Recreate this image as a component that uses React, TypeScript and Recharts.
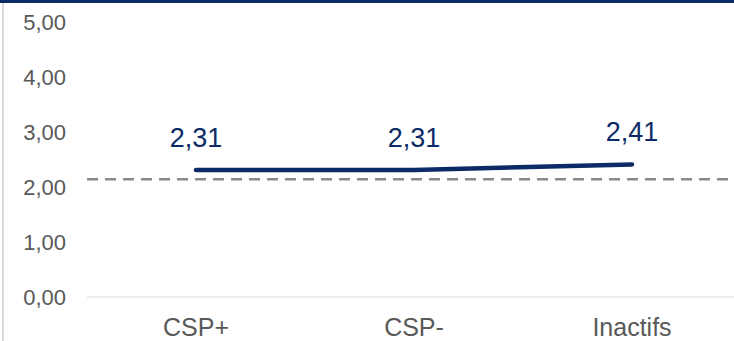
import React from "react";
import { LineChart, Line, XAxis, YAxis, ReferenceLine, LabelList } from "recharts";

const categories = ["CSP+", "CSP-", "Inactifs"];
const values = [2.31, 2.31, 2.41];
const valueLabels = ["2,31", "2,31", "2,41"];
const yTicks = [0, 1, 2, 3, 4, 5];
const yTickLabels = ["0,00", "1,00", "2,00", "3,00", "4,00", "5,00"];
const benchmark = 2.14;

const data = categories.map((c, i) => ({ name: c, value: values[i], label: valueLabels[i] }));

const FONT = "'Liberation Sans', Arial, sans-serif";

const renderLabel = (props: any) => {
  const { x, y, index } = props;
  return (
    <text x={x} y={y - 23} textAnchor="middle" fill="#0b2a66" fontSize={27} fontFamily={FONT}>
      {valueLabels[index]}
    </text>
  );
};

export default function App() {
  return (
    <div style={{ position: "fixed", left: 0, top: 0, width: 734, height: 341, overflow: "hidden", background: "#fff" }}>
      <div style={{ position: "absolute", left: 0, top: 0, width: 734, height: 3, background: "#0b2a66" }} />
      <div style={{ position: "absolute", left: 2, top: 3, width: 2, height: 338, background: "#d9d9d9" }} />
      <div style={{ position: "absolute", left: 0, top: 0 }}>
        <LineChart width={741} height={341} data={data} margin={{ top: 22, right: 0, bottom: 0, left: 0 }}>
          <XAxis
            dataKey="name"
            height={44}
            padding={{ left: 109, right: 109 }}
            tickLine={false}
            axisLine={{ stroke: "#d9d9d9", strokeWidth: 1 }}
            tickMargin={15}
            tick={{ fill: "#595959", fontSize: 25, fontFamily: FONT }}
            interval={0}
          />
          <YAxis
            width={87}
            domain={[0, 5]}
            ticks={yTicks}
            tickFormatter={(v: number) => yTickLabels[yTicks.indexOf(v)]}
            axisLine={false}
            tickLine={false}
            tickMargin={15}
            tick={{ fill: "#595959", fontSize: 22, fontFamily: FONT }}
          />
          <ReferenceLine y={benchmark} stroke="#898989" strokeWidth={2.5} strokeDasharray="11 7" />
          <Line
            type="linear"
            dataKey="value"
            stroke="#0b2a66"
            strokeWidth={4.5}
            strokeLinecap="round"
            dot={false}
            activeDot={false}
            isAnimationActive={false}
          >
            <LabelList dataKey="label" content={renderLabel} />
          </Line>
        </LineChart>
      </div>
    </div>
  );
}
